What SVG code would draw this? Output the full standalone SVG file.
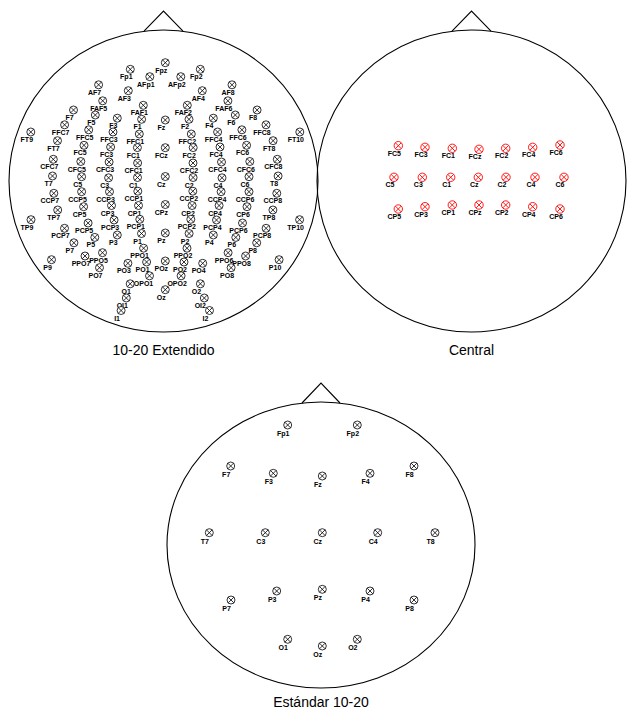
<svg xmlns="http://www.w3.org/2000/svg" width="627" height="709" viewBox="0 0 627 709">
<style>
.h{fill:none;stroke:#000;stroke-width:1.1}
.l{font-family:"Liberation Sans",Arial,sans-serif;font-size:7px;font-weight:bold;text-anchor:middle;fill:#000}
.t{font-family:"Liberation Sans",Arial,sans-serif;font-size:14px;text-anchor:middle;fill:#000}
</style>
<defs>
<g id="m"><circle r="4" fill="#fff" stroke="#000" stroke-width="0.8"/><path d="M-2.8-2.8L2.8 2.8M-2.8 2.8L2.8-2.8" stroke="#000" stroke-width="0.8"/></g>
<g id="mr"><circle r="4.2" fill="#fff" stroke="#f00" stroke-width="0.9"/><path d="M-2.9-2.9L2.9 2.9M-2.9 2.9L2.9-2.9" stroke="#f00" stroke-width="0.9"/></g>
</defs>
<rect width="627" height="709" fill="#fff"/>
<g id="connectors"/>

<g id="head-extendido">
<ellipse class="h" cx="163.5" cy="181" rx="154.5" ry="151"/>
<polyline class="h" points="144,31.2 163.5,11 183,31.2"/>
<text class="t" x="163.5" y="355">10-20 Extendido</text>
</g>
<g id="head-central">
<ellipse class="h" cx="471.5" cy="181" rx="154.5" ry="151"/>
<polyline class="h" points="452,31.2 471.5,11 491,31.2"/>
<text class="t" x="471.5" y="355">Central</text>
</g>
<g id="head-estandar">
<ellipse class="h" cx="321" cy="545" rx="154" ry="143"/>
<polyline class="h" points="302,403 321,383 340,403"/>
<text class="t" x="321" y="707">Estándar 10-20</text>
</g>

<g id="ext-nodes">
<g id="ext-Fpz" transform="translate(165.3,62.7)"><text class="l" x="-4" y="10">Fpz</text><use href="#m"/></g>
<g id="ext-Fp1" transform="translate(130.3,69.3)"><text class="l" x="-4" y="10">Fp1</text><use href="#m"/></g>
<g id="ext-Fp2" transform="translate(200.3,69.3)"><text class="l" x="-4" y="10">Fp2</text><use href="#m"/></g>
<g id="ext-AFp1" transform="translate(149.8,76.7)"><text class="l" x="-4" y="10">AFp1</text><use href="#m"/></g>
<g id="ext-AFp2" transform="translate(180.8,76.7)"><text class="l" x="-4" y="10">AFp2</text><use href="#m"/></g>
<g id="ext-AF7" transform="translate(98.6,84.8)"><text class="l" x="-4" y="10">AF7</text><use href="#m"/></g>
<g id="ext-AF8" transform="translate(232,84.8)"><text class="l" x="-4" y="10">AF8</text><use href="#m"/></g>
<g id="ext-AF3" transform="translate(128.3,90.7)"><text class="l" x="-4" y="10">AF3</text><use href="#m"/></g>
<g id="ext-AF4" transform="translate(202.3,90.7)"><text class="l" x="-4" y="10">AF4</text><use href="#m"/></g>
<g id="ext-FAF5" transform="translate(102.7,100.8)"><text class="l" x="-4" y="10">FAF5</text><use href="#m"/></g>
<g id="ext-FAF6" transform="translate(227.9,100.8)"><text class="l" x="-4" y="10">FAF6</text><use href="#m"/></g>
<g id="ext-FAF1" transform="translate(143.3,105.3)"><text class="l" x="-4" y="10">FAF1</text><use href="#m"/></g>
<g id="ext-FAF2" transform="translate(187.3,105.3)"><text class="l" x="-4" y="10">FAF2</text><use href="#m"/></g>
<g id="ext-F7" transform="translate(73.5,110)"><text class="l" x="-4" y="10">F7</text><use href="#m"/></g>
<g id="ext-F8" transform="translate(257.1,110)"><text class="l" x="-4" y="10">F8</text><use href="#m"/></g>
<g id="ext-F5" transform="translate(95.3,115)"><text class="l" x="-4" y="10">F5</text><use href="#m"/></g>
<g id="ext-F6" transform="translate(235.3,115)"><text class="l" x="-4" y="10">F6</text><use href="#m"/></g>
<g id="ext-F3" transform="translate(117.3,118.2)"><text class="l" x="-4" y="10">F3</text><use href="#m"/></g>
<g id="ext-F4" transform="translate(213.3,118.2)"><text class="l" x="-4" y="10">F4</text><use href="#m"/></g>
<g id="ext-F1" transform="translate(141.6,119.3)"><text class="l" x="-4" y="10">F1</text><use href="#m"/></g>
<g id="ext-Fz" transform="translate(165.3,120)"><text class="l" x="-4" y="10">Fz</text><use href="#m"/></g>
<g id="ext-F2" transform="translate(189,119.3)"><text class="l" x="-4" y="10">F2</text><use href="#m"/></g>
<g id="ext-FFC7" transform="translate(64.6,124.8)"><text class="l" x="-4" y="10">FFC7</text><use href="#m"/></g>
<g id="ext-FFC8" transform="translate(266,124.8)"><text class="l" x="-4" y="10">FFC8</text><use href="#m"/></g>
<g id="ext-FFC5" transform="translate(88.7,129.8)"><text class="l" x="-4" y="10">FFC5</text><use href="#m"/></g>
<g id="ext-FFC6" transform="translate(241.9,129.8)"><text class="l" x="-4" y="10">FFC6</text><use href="#m"/></g>
<g id="ext-FFC3" transform="translate(113,132)"><text class="l" x="-4" y="10">FFC3</text><use href="#m"/></g>
<g id="ext-FFC4" transform="translate(217.6,132)"><text class="l" x="-4" y="10">FFC4</text><use href="#m"/></g>
<g id="ext-FFC1" transform="translate(139.3,134)"><text class="l" x="-4" y="10">FFC1</text><use href="#m"/></g>
<g id="ext-FFC2" transform="translate(191.3,134)"><text class="l" x="-4" y="10">FFC2</text><use href="#m"/></g>
<g id="ext-FT9" transform="translate(30.8,132)"><text class="l" x="-4" y="10">FT9</text><use href="#m"/></g>
<g id="ext-FT10" transform="translate(299.8,132)"><text class="l" x="-4" y="10">FT10</text><use href="#m"/></g>
<g id="ext-FT7" transform="translate(57.5,140.7)"><text class="l" x="-4" y="10">FT7</text><use href="#m"/></g>
<g id="ext-FT8" transform="translate(273.1,140.7)"><text class="l" x="-4" y="10">FT8</text><use href="#m"/></g>
<g id="ext-FC5" transform="translate(84,145.3)"><text class="l" x="-4" y="10">FC5</text><use href="#m"/></g>
<g id="ext-FC6" transform="translate(246.6,145.3)"><text class="l" x="-4" y="10">FC6</text><use href="#m"/></g>
<g id="ext-FC3" transform="translate(110.6,147)"><text class="l" x="-4" y="10">FC3</text><use href="#m"/></g>
<g id="ext-FC4" transform="translate(220,147)"><text class="l" x="-4" y="10">FC4</text><use href="#m"/></g>
<g id="ext-FC1" transform="translate(137.4,147.6)"><text class="l" x="-4" y="10">FC1</text><use href="#m"/></g>
<g id="ext-FCz" transform="translate(165.3,147.7)"><text class="l" x="-4" y="10">FCz</text><use href="#m"/></g>
<g id="ext-FC2" transform="translate(193.2,147.6)"><text class="l" x="-4" y="10">FC2</text><use href="#m"/></g>
<g id="ext-CFC7" transform="translate(53.3,159.3)"><text class="l" x="-4" y="10">CFC7</text><use href="#m"/></g>
<g id="ext-CFC8" transform="translate(277.3,159.3)"><text class="l" x="-4" y="10">CFC8</text><use href="#m"/></g>
<g id="ext-CFC5" transform="translate(80.8,161.5)"><text class="l" x="-4" y="10">CFC5</text><use href="#m"/></g>
<g id="ext-CFC6" transform="translate(249.8,161.5)"><text class="l" x="-4" y="10">CFC6</text><use href="#m"/></g>
<g id="ext-CFC3" transform="translate(109.1,162)"><text class="l" x="-4" y="10">CFC3</text><use href="#m"/></g>
<g id="ext-CFC4" transform="translate(221.5,162)"><text class="l" x="-4" y="10">CFC4</text><use href="#m"/></g>
<g id="ext-CFC1" transform="translate(137.6,163)"><text class="l" x="-4" y="10">CFC1</text><use href="#m"/></g>
<g id="ext-CFC2" transform="translate(193,163)"><text class="l" x="-4" y="10">CFC2</text><use href="#m"/></g>
<g id="ext-T7" transform="translate(52.5,176)"><text class="l" x="-4" y="10">T7</text><use href="#m"/></g>
<g id="ext-T8" transform="translate(278.1,176)"><text class="l" x="-4" y="10">T8</text><use href="#m"/></g>
<g id="ext-C5" transform="translate(81.6,176.7)"><text class="l" x="-4" y="10">C5</text><use href="#m"/></g>
<g id="ext-C6" transform="translate(249,176.7)"><text class="l" x="-4" y="10">C6</text><use href="#m"/></g>
<g id="ext-C3" transform="translate(108.6,177.8)"><text class="l" x="-4" y="10">C3</text><use href="#m"/></g>
<g id="ext-C4" transform="translate(222,177.8)"><text class="l" x="-4" y="10">C4</text><use href="#m"/></g>
<g id="ext-C1" transform="translate(137.5,177.5)"><text class="l" x="-4" y="10">C1</text><use href="#m"/></g>
<g id="ext-Cz" transform="translate(165.3,176.5)"><text class="l" x="-4" y="10">Cz</text><use href="#m"/></g>
<g id="ext-C2" transform="translate(193.1,177.5)"><text class="l" x="-4" y="10">C2</text><use href="#m"/></g>
<g id="ext-CCP7" transform="translate(53.8,193.3)"><text class="l" x="-4" y="10">CCP7</text><use href="#m"/></g>
<g id="ext-CCP8" transform="translate(276.8,193.3)"><text class="l" x="-4" y="10">CCP8</text><use href="#m"/></g>
<g id="ext-CCP5" transform="translate(81.6,191.7)"><text class="l" x="-4" y="10">CCP5</text><use href="#m"/></g>
<g id="ext-CCP6" transform="translate(249,191.7)"><text class="l" x="-4" y="10">CCP6</text><use href="#m"/></g>
<g id="ext-CCP3" transform="translate(109.5,191.7)"><text class="l" x="-4" y="10">CCP3</text><use href="#m"/></g>
<g id="ext-CCP4" transform="translate(221.1,191.7)"><text class="l" x="-4" y="10">CCP4</text><use href="#m"/></g>
<g id="ext-CCP1" transform="translate(137.8,191.2)"><text class="l" x="-4" y="10">CCP1</text><use href="#m"/></g>
<g id="ext-CCP2" transform="translate(192.8,191.2)"><text class="l" x="-4" y="10">CCP2</text><use href="#m"/></g>
<g id="ext-TP7" transform="translate(57.7,210)"><text class="l" x="-4" y="10">TP7</text><use href="#m"/></g>
<g id="ext-TP8" transform="translate(272.9,210)"><text class="l" x="-4" y="10">TP8</text><use href="#m"/></g>
<g id="ext-CP5" transform="translate(83.6,206.7)"><text class="l" x="-4" y="10">CP5</text><use href="#m"/></g>
<g id="ext-CP6" transform="translate(247,206.7)"><text class="l" x="-4" y="10">CP6</text><use href="#m"/></g>
<g id="ext-CP3" transform="translate(111.5,205.5)"><text class="l" x="-4" y="10">CP3</text><use href="#m"/></g>
<g id="ext-CP4" transform="translate(219.1,205.5)"><text class="l" x="-4" y="10">CP4</text><use href="#m"/></g>
<g id="ext-CP1" transform="translate(138.5,205.5)"><text class="l" x="-4" y="10">CP1</text><use href="#m"/></g>
<g id="ext-CPz" transform="translate(165.3,204.5)"><text class="l" x="-4" y="10">CPz</text><use href="#m"/></g>
<g id="ext-CP2" transform="translate(192.1,205.5)"><text class="l" x="-4" y="10">CP2</text><use href="#m"/></g>
<g id="ext-TP9" transform="translate(31,219.7)"><text class="l" x="-4" y="10">TP9</text><use href="#m"/></g>
<g id="ext-TP10" transform="translate(299.6,219.7)"><text class="l" x="-4" y="10">TP10</text><use href="#m"/></g>
<g id="ext-PCP7" transform="translate(64.5,228.3)"><text class="l" x="-4" y="10">PCP7</text><use href="#m"/></g>
<g id="ext-PCP8" transform="translate(266.1,228.3)"><text class="l" x="-4" y="10">PCP8</text><use href="#m"/></g>
<g id="ext-PCP5" transform="translate(88.1,223)"><text class="l" x="-4" y="10">PCP5</text><use href="#m"/></g>
<g id="ext-PCP6" transform="translate(242.5,223)"><text class="l" x="-4" y="10">PCP6</text><use href="#m"/></g>
<g id="ext-PCP3" transform="translate(114.1,220)"><text class="l" x="-4" y="10">PCP3</text><use href="#m"/></g>
<g id="ext-PCP4" transform="translate(216.5,220)"><text class="l" x="-4" y="10">PCP4</text><use href="#m"/></g>
<g id="ext-PCP1" transform="translate(139.8,219.3)"><text class="l" x="-4" y="10">PCP1</text><use href="#m"/></g>
<g id="ext-PCP2" transform="translate(190.8,219.3)"><text class="l" x="-4" y="10">PCP2</text><use href="#m"/></g>
<g id="ext-P7" transform="translate(73.9,242.8)"><text class="l" x="-4" y="10">P7</text><use href="#m"/></g>
<g id="ext-P8" transform="translate(256.7,242.8)"><text class="l" x="-4" y="10">P8</text><use href="#m"/></g>
<g id="ext-P5" transform="translate(94.8,237.4)"><text class="l" x="-4" y="10">P5</text><use href="#m"/></g>
<g id="ext-P6" transform="translate(235.8,237.4)"><text class="l" x="-4" y="10">P6</text><use href="#m"/></g>
<g id="ext-P3" transform="translate(117.3,235)"><text class="l" x="-4" y="10">P3</text><use href="#m"/></g>
<g id="ext-P4" transform="translate(213.3,235)"><text class="l" x="-4" y="10">P4</text><use href="#m"/></g>
<g id="ext-P1" transform="translate(141.5,233.5)"><text class="l" x="-4" y="10">P1</text><use href="#m"/></g>
<g id="ext-Pz" transform="translate(165.3,233)"><text class="l" x="-4" y="10">Pz</text><use href="#m"/></g>
<g id="ext-P2" transform="translate(189.1,233.5)"><text class="l" x="-4" y="10">P2</text><use href="#m"/></g>
<g id="ext-PPO1" transform="translate(143.6,248.2)"><text class="l" x="-4" y="10">PPO1</text><use href="#m"/></g>
<g id="ext-PPO2" transform="translate(187,248.2)"><text class="l" x="-4" y="10">PPO2</text><use href="#m"/></g>
<g id="ext-PPO5" transform="translate(102.5,252.7)"><text class="l" x="-4" y="10">PPO5</text><use href="#m"/></g>
<g id="ext-PPO6" transform="translate(228.1,252.7)"><text class="l" x="-4" y="10">PPO6</text><use href="#m"/></g>
<g id="ext-PPO7" transform="translate(85,256)"><text class="l" x="-4" y="10">PPO7</text><use href="#m"/></g>
<g id="ext-PPO8" transform="translate(245.6,256)"><text class="l" x="-4" y="10">PPO8</text><use href="#m"/></g>
<g id="ext-P9" transform="translate(51.5,259.7)"><text class="l" x="-4" y="10">P9</text><use href="#m"/></g>
<g id="ext-P10" transform="translate(279.1,259.7)"><text class="l" x="-4" y="10">P10</text><use href="#m"/></g>
<g id="ext-PO1" transform="translate(146.6,262)"><text class="l" x="-4" y="10">PO1</text><use href="#m"/></g>
<g id="ext-POz" transform="translate(165.3,261)"><text class="l" x="-4" y="10">POz</text><use href="#m"/></g>
<g id="ext-PO2" transform="translate(184,262)"><text class="l" x="-4" y="10">PO2</text><use href="#m"/></g>
<g id="ext-PO3" transform="translate(127.9,263.3)"><text class="l" x="-4" y="10">PO3</text><use href="#m"/></g>
<g id="ext-PO4" transform="translate(202.7,263.3)"><text class="l" x="-4" y="10">PO4</text><use href="#m"/></g>
<g id="ext-PO7" transform="translate(99.5,267.7)"><text class="l" x="-4" y="10">PO7</text><use href="#m"/></g>
<g id="ext-PO8" transform="translate(231.1,267.7)"><text class="l" x="-4" y="10">PO8</text><use href="#m"/></g>
<g id="ext-OPO1" transform="translate(149.5,275.8)"><text class="l" x="-6" y="10">OPO1</text><use href="#m"/></g>
<g id="ext-OPO2" transform="translate(181.1,275.8)"><text class="l" x="-4" y="10">OPO2</text><use href="#m"/></g>
<g id="ext-O1" transform="translate(130.2,283.8)"><text class="l" x="-4" y="10">O1</text><use href="#m"/></g>
<g id="ext-O2" transform="translate(200.4,283.8)"><text class="l" x="-4" y="10">O2</text><use href="#m"/></g>
<g id="ext-Oz" transform="translate(165.3,289.7)"><text class="l" x="-4" y="10">Oz</text><use href="#m"/></g>
<g id="ext-OI1" transform="translate(126.3,298)"><text class="l" x="-4" y="10">OI1</text><use href="#m"/></g>
<g id="ext-OI2" transform="translate(204.3,298)"><text class="l" x="-4" y="10">OI2</text><use href="#m"/></g>
<g id="ext-I1" transform="translate(121.1,310.5)"><text class="l" x="-4" y="10">I1</text><use href="#m"/></g>
<g id="ext-I2" transform="translate(209.5,310.5)"><text class="l" x="-4" y="10">I2</text><use href="#m"/></g>
</g>

<g id="cen-nodes">
<g id="cen-FC5" transform="translate(398.3,145.7)"><text class="l" x="-4" y="10">FC5</text><use href="#mr"/></g>
<g id="cen-FC3" transform="translate(425,147.3)"><text class="l" x="-4" y="10">FC3</text><use href="#mr"/></g>
<g id="cen-FC1" transform="translate(452.3,148.3)"><text class="l" x="-4" y="10">FC1</text><use href="#mr"/></g>
<g id="cen-FCz" transform="translate(479,149.3)"><text class="l" x="-4" y="10">FCz</text><use href="#mr"/></g>
<g id="cen-FC2" transform="translate(505.7,148.3)"><text class="l" x="-4" y="10">FC2</text><use href="#mr"/></g>
<g id="cen-FC4" transform="translate(532.7,147.3)"><text class="l" x="-4" y="10">FC4</text><use href="#mr"/></g>
<g id="cen-FC6" transform="translate(560,145)"><text class="l" x="-4" y="10">FC6</text><use href="#mr"/></g>
<g id="cen-C5" transform="translate(394,177.3)"><text class="l" x="-4" y="10">C5</text><use href="#mr"/></g>
<g id="cen-C3" transform="translate(422.3,177.3)"><text class="l" x="-4" y="10">C3</text><use href="#mr"/></g>
<g id="cen-C1" transform="translate(450.7,177.3)"><text class="l" x="-4" y="10">C1</text><use href="#mr"/></g>
<g id="cen-Cz" transform="translate(478.3,177.3)"><text class="l" x="-4" y="10">Cz</text><use href="#mr"/></g>
<g id="cen-C2" transform="translate(506,177.3)"><text class="l" x="-4" y="10">C2</text><use href="#mr"/></g>
<g id="cen-C4" transform="translate(535,177.3)"><text class="l" x="-4" y="10">C4</text><use href="#mr"/></g>
<g id="cen-C6" transform="translate(564,177.3)"><text class="l" x="-4" y="10">C6</text><use href="#mr"/></g>
<g id="cen-CP5" transform="translate(398.3,209)"><text class="l" x="-4" y="10">CP5</text><use href="#mr"/></g>
<g id="cen-CP3" transform="translate(425,206.7)"><text class="l" x="-4" y="10">CP3</text><use href="#mr"/></g>
<g id="cen-CP1" transform="translate(452.3,205)"><text class="l" x="-4" y="10">CP1</text><use href="#mr"/></g>
<g id="cen-CPz" transform="translate(479,205)"><text class="l" x="-4" y="10">CPz</text><use href="#mr"/></g>
<g id="cen-CP2" transform="translate(505.7,205)"><text class="l" x="-4" y="10">CP2</text><use href="#mr"/></g>
<g id="cen-CP4" transform="translate(532.7,206.7)"><text class="l" x="-4" y="10">CP4</text><use href="#mr"/></g>
<g id="cen-CP6" transform="translate(560,209)"><text class="l" x="-4" y="10">CP6</text><use href="#mr"/></g>
</g>

<g id="std-nodes">
<g id="std-Fp1" transform="translate(287.7,425)"><text class="l" x="-4.5" y="11">Fp1</text><use href="#m"/></g>
<g id="std-Fp2" transform="translate(357.3,425)"><text class="l" x="-4.5" y="11">Fp2</text><use href="#m"/></g>
<g id="std-F7" transform="translate(230.7,466)"><text class="l" x="-4.5" y="11">F7</text><use href="#m"/></g>
<g id="std-F3" transform="translate(273.3,473.3)"><text class="l" x="-4.5" y="11">F3</text><use href="#m"/></g>
<g id="std-Fz" transform="translate(322.3,476)"><text class="l" x="-4.5" y="11">Fz</text><use href="#m"/></g>
<g id="std-F4" transform="translate(370,473.3)"><text class="l" x="-4.5" y="11">F4</text><use href="#m"/></g>
<g id="std-F8" transform="translate(414,466)"><text class="l" x="-4.5" y="11">F8</text><use href="#m"/></g>
<g id="std-T7" transform="translate(209.3,532.7)"><text class="l" x="-4.5" y="11">T7</text><use href="#m"/></g>
<g id="std-C3" transform="translate(265.3,532.7)"><text class="l" x="-4.5" y="11">C3</text><use href="#m"/></g>
<g id="std-Cz" transform="translate(322.3,532.7)"><text class="l" x="-4.5" y="11">Cz</text><use href="#m"/></g>
<g id="std-C4" transform="translate(377.7,532.7)"><text class="l" x="-4.5" y="11">C4</text><use href="#m"/></g>
<g id="std-T8" transform="translate(435,532.7)"><text class="l" x="-4.5" y="11">T8</text><use href="#m"/></g>
<g id="std-P7" transform="translate(231,600)"><text class="l" x="-4.5" y="11">P7</text><use href="#m"/></g>
<g id="std-P3" transform="translate(276.7,591)"><text class="l" x="-4.5" y="11">P3</text><use href="#m"/></g>
<g id="std-Pz" transform="translate(322.3,589.3)"><text class="l" x="-4.5" y="11">Pz</text><use href="#m"/></g>
<g id="std-P4" transform="translate(370,591)"><text class="l" x="-4.5" y="11">P4</text><use href="#m"/></g>
<g id="std-P8" transform="translate(414,600)"><text class="l" x="-4.5" y="11">P8</text><use href="#m"/></g>
<g id="std-O1" transform="translate(287.7,639.3)"><text class="l" x="-4.5" y="11">O1</text><use href="#m"/></g>
<g id="std-Oz" transform="translate(322.3,646)"><text class="l" x="-4.5" y="11">Oz</text><use href="#m"/></g>
<g id="std-O2" transform="translate(357.3,639.3)"><text class="l" x="-4.5" y="11">O2</text><use href="#m"/></g>
</g>
</svg>
